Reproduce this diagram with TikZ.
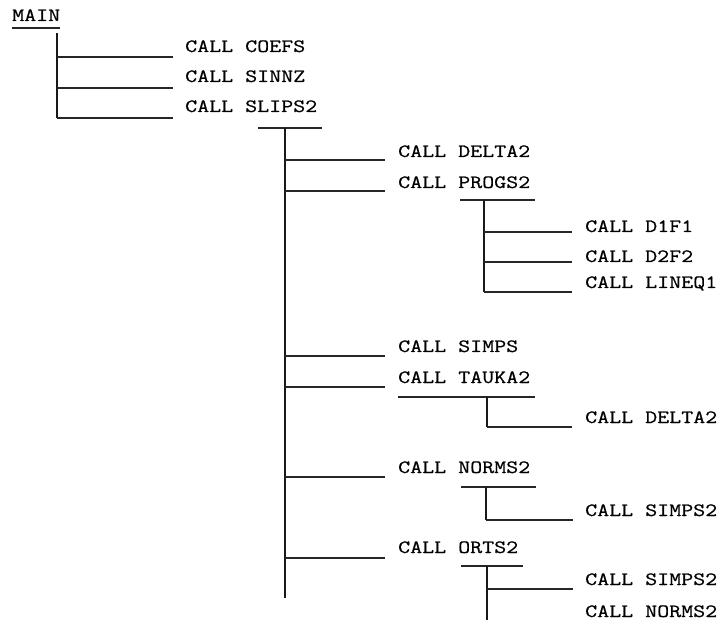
\documentclass[tikz,border=0pt]{standalone}
\usepackage{fontspec}
\setmonofont[FakeStretch=1.24,FakeBold=0.6]{Latin Modern Mono}
\begin{document}
\begin{tikzpicture}[x=1pt,y=-1pt,
  lbl/.style={anchor=base west,inner sep=0pt,font=\ttfamily\fontsize{18.8}{22}\selectfont},
  hline/.style={line width=1.2pt,draw=black!85},
  vline/.style={line width=1.8pt,draw=black!90}]
\useasboundingbox (0,0) rectangle (723,620);
% texts
\node[lbl] (main) at (12,21) {MAIN};
\node[lbl] (coefs) at (185,52) {CALL COEFS};
\node[lbl] (sinnz) at (185,82) {CALL SINNZ};
\node[lbl] (slips) at (185,112) {CALL SLIPS2};
\node[lbl] (delta) at (398,157) {CALL DELTA2};
\node[lbl] (progs) at (398,188) {CALL PROGS2};
\node[lbl] (dff) at (585,232) {CALL D1F1};
\node[lbl] (dfs) at (585,262) {CALL D2F2};
\node[lbl] (lineq) at (585,288) {CALL LINEQ1};
\node[lbl] (simps) at (398,352) {CALL SIMPS};
\node[lbl] (tauka) at (398,383) {CALL TAUKA2};
\node[lbl] (deltab) at (585,423) {CALL DELTA2};
\node[lbl] (norms) at (398,473) {CALL NORMS2};
\node[lbl] (simpsa) at (585,516) {CALL SIMPS2};
\node[lbl] (orts) at (398,553) {CALL ORTS2};
\node[lbl] (simpsb) at (585,585) {CALL SIMPS2};
\node[lbl] (normsb) at (585,617) {CALL NORMS2};
% level 0
\coordinate (mu1) at (12,28); \coordinate (mu2) at (60,28);
\draw[hline] (mu1) -- (mu2);
\coordinate (v0t) at (57,33); \coordinate (v0b) at (57,118);
\draw[vline] (v0t) -- (v0b);
\coordinate (e1) at (173,57); \coordinate (e2) at (173,88); \coordinate (e3) at (173,118);
\foreach \e in {e1,e2,e3} \draw[hline] (v0t |- \e) -- (\e);
% level 1 (SLIPS2)
\coordinate (su1) at (258,128); \coordinate (su2) at (322,128);
\draw[hline] (su1) -- (su2);
\coordinate (v1t) at (285,128); \coordinate (v1b) at (285,598);
\draw[vline] (v1t) -- (v1b);
\coordinate (f1) at (385,160); \coordinate (f2) at (385,191);
\coordinate (f3) at (385,356); \coordinate (f4) at (385,387);
\coordinate (f5) at (385,477); \coordinate (f6) at (385,558);
\foreach \e in {f1,f2,f3,f4,f5,f6} \draw[hline] (v1t |- \e) -- (\e);
% PROGS2
\coordinate (pu1) at (460,200); \coordinate (pu2) at (535,200);
\draw[hline] (pu1) -- (pu2);
\coordinate (v2t) at (484,200); \coordinate (v2b) at (484,292);
\draw[vline] (v2t) -- (v2b);
\coordinate (g1) at (572,232); \coordinate (g2) at (572,262); \coordinate (g3) at (572,292);
\foreach \e in {g1,g2,g3} \draw[hline] (v2t |- \e) -- (\e);
% TAUKA2
\coordinate (tu1) at (398,397); \coordinate (tu2) at (535,397);
\draw[hline] (tu1) -- (tu2);
\coordinate (v3t) at (487,397); \coordinate (v3b) at (487,427);
\coordinate (h3) at (572,427);
\draw[vline] (v3t) -- (v3b);
\draw[hline] (v3b) -- (h3);
% NORMS2
\coordinate (nu1) at (461,487); \coordinate (nu2) at (536,487);
\draw[hline] (nu1) -- (nu2);
\coordinate (v4t) at (486,487); \coordinate (v4b) at (486,520);
\coordinate (h4) at (573,520);
\draw[vline] (v4t) -- (v4b);
\draw[hline] (v4b) -- (h4);
% ORTS2
\coordinate (ou1) at (461,566); \coordinate (ou2) at (523,566);
\draw[hline] (ou1) -- (ou2);
\coordinate (v5t) at (487,566); \coordinate (v5b) at (487,620);
\coordinate (h5) at (573,589);
\draw[vline] (v5t) -- (v5b);
\draw[hline] (v5t |- h5) -- (h5);
\end{tikzpicture}
\end{document}
